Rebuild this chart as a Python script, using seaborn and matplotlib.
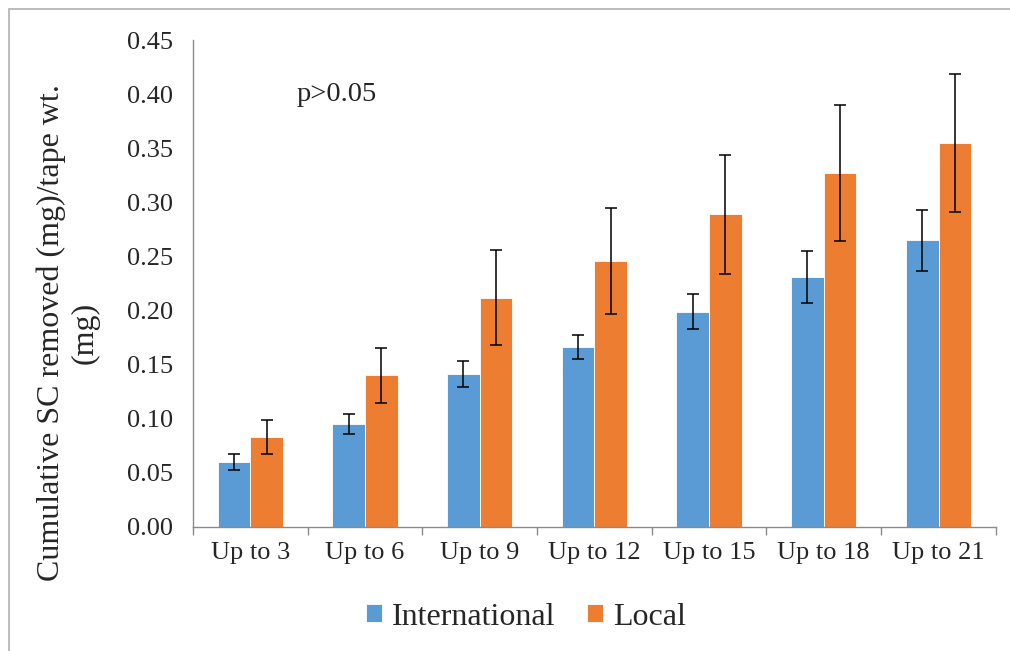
import numpy as np
import pandas as pd
import matplotlib
matplotlib.use("Agg")
import matplotlib.pyplot as plt
from matplotlib.patches import Rectangle
import seaborn as sns

# valores
categorias = ["Up to 3", "Up to 6", "Up to 9", "Up to 12", "Up to 15", "Up to 18", "Up to 21"]
internacional = [0.060, 0.095, 0.141, 0.166, 0.199, 0.231, 0.265]
internacional_err = [0.0075, 0.009, 0.012, 0.011, 0.016, 0.024, 0.028]
local = [0.083, 0.140, 0.212, 0.246, 0.289, 0.327, 0.355]
local_err = [0.016, 0.025, 0.044, 0.049, 0.055, 0.063, 0.064]
series = ["International", "Local"]
colores = ["#5B9BD5", "#ED7D31"]

df = pd.DataFrame({
    "Grupo": categorias * 2,
    "Valor": internacional + local,
    "Error": internacional_err + local_err,
    "Serie": [series[0]] * len(categorias) + [series[1]] * len(categorias),
})

sns.set_style("white")
plt.rcParams["font.family"] = ["Liberation Serif", "DejaVu Serif"]

fig = plt.figure(figsize=(10.1, 6.51), dpi=100)
ax = fig.add_axes([0.191, 0.1905, 0.795, 0.748])

sns.barplot(data=df, x="Grupo", y="Valor", hue="Serie", palette=colores,
            width=0.57, errorbar=None, edgecolor="white", linewidth=0.6,
            saturation=1, ax=ax, legend=True)

# barras de error sobre el centro de cada barra
for cont, serie in zip(ax.containers, series):
    sub = df[df["Serie"] == serie]
    xs = [p.get_x() + p.get_width() / 2 for p in cont.patches]
    ax.errorbar(xs, sub["Valor"], yerr=sub["Error"], fmt="none",
                ecolor="black", elinewidth=1.1, capsize=4.5, capthick=1.1)

ax.set_ylim(0, 0.45)
ax.set_xlim(-0.5, len(categorias) - 0.5)
ax.set_yticks(np.arange(0, 0.451, 0.05))
ax.set_yticklabels([f"{v:.2f}" for v in np.arange(0, 0.451, 0.05)])
ax.set_xticks(np.arange(-0.5, len(categorias), 1.0), minor=True)
ax.tick_params(axis="x", which="major", length=0, pad=11, labelsize=19)
ax.tick_params(axis="x", which="minor", length=6, width=1, color="#8a8a8a", direction="out")
ax.tick_params(axis="y", length=6, width=1, color="#8a8a8a", direction="out", pad=8, labelsize=19)
ax.xaxis.set_tick_params(which="both", bottom=True)

for lado in ["top", "right"]:
    ax.spines[lado].set_visible(False)
for lado in ["left", "bottom"]:
    ax.spines[lado].set_color("#8a8a8a")
    ax.spines[lado].set_linewidth(1)

ax.set_xlabel("")
ax.set_ylabel("")
fig.text(68 / 1010, 1 - 333 / 651, "Cumulative SC removed (mg)/tape wt.\n(mg)",
         rotation=90, ha="center", va="center", multialignment="center", fontsize=23)
ax.text(0.407, 0.40, "p>0.05", fontsize=20.5, ha="left", va="center")

ax.get_legend().remove()
handles, labels = ax.get_legend_handles_labels()
fig.legend(handles[:2], series, loc="center", bbox_to_anchor=(0.521, 0.052), ncol=2,
           frameon=False, fontsize=23, handlelength=0.5, handleheight=0.5,
           handletextpad=0.3, columnspacing=1.0)

# marco gris del grafico
fig.patches.append(Rectangle((0.009, -0.02), 1.05, 0.006 + 1.0, transform=fig.transFigure,
                             fill=False, edgecolor="#b0b0b0", linewidth=1.2))

plt.savefig("out.png", dpi=100)
plt.close()
